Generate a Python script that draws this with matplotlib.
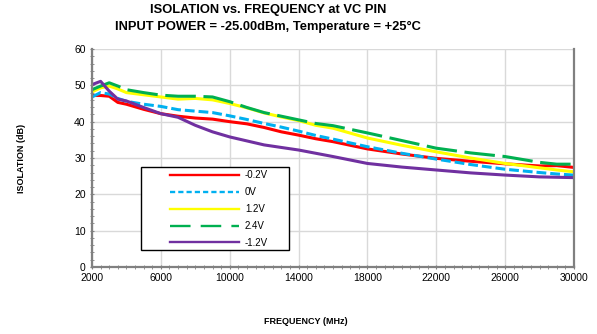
import matplotlib
matplotlib.use("Agg")
import matplotlib.pyplot as plt
from matplotlib.ticker import MultipleLocator
from matplotlib.lines import Line2D
from matplotlib.patches import Rectangle

plt.rcParams['font.family'] = ['Liberation Sans', 'DejaVu Sans']

freq = [2000, 2500, 3000, 3500, 4000, 5000, 6000, 7000, 8000, 9000, 10000, 11000, 12000,
        13000, 14000, 15000, 16000, 18000, 20000, 22000, 24000, 26000, 28000, 29000, 30000]
iso_m02 = [47.2, 47.2, 47.0, 45.3, 44.8, 43.4, 42.2, 41.5, 41.0, 40.7, 40.0, 39.4, 38.4,
           37.2, 36.3, 35.3, 34.5, 32.5, 31.1, 29.9, 29.1, 28.4, 27.8, 27.9, 27.4]
iso_0 = [46.8, 48.0, 47.6, 46.4, 45.6, 44.8, 44.2, 43.3, 42.9, 42.5, 41.6, 40.6, 39.5,
         38.5, 37.4, 36.2, 35.2, 33.1, 31.3, 29.7, 28.2, 26.9, 26.0, 25.6, 25.3]
iso_12 = [48.2, 49.3, 49.8, 49.0, 48.0, 47.4, 46.8, 46.2, 46.4, 46.0, 45.0, 43.8, 42.4,
          41.3, 40.3, 39.0, 38.2, 35.5, 33.5, 31.7, 30.0, 28.5, 27.3, 26.7, 26.2]
iso_24 = [48.8, 49.8, 50.7, 49.8, 48.8, 48.0, 47.3, 47.0, 47.0, 46.8, 45.5, 43.9, 42.5,
          41.5, 40.5, 39.5, 38.9, 36.9, 34.8, 32.7, 31.4, 30.4, 28.8, 28.3, 28.3]
iso_m12 = [50.2, 51.1, 48.4, 46.2, 45.7, 43.9, 42.2, 41.2, 39.0, 37.2, 35.8, 34.7, 33.6,
           32.9, 32.2, 31.3, 30.4, 28.5, 27.5, 26.7, 25.9, 25.3, 24.8, 24.7, 24.6]
labels = ['-0.2V', '0V', '1.2V', '2.4V', '-1.2V']
xticks = [2000, 6000, 10000, 14000, 18000, 22000, 26000, 30000]
yticks = [0, 10, 20, 30, 40, 50, 60]

colors = ['#FF0000', '#00B0F0', '#FFFF00', '#00B050', '#7030A0']
styles = ['-', (0, (3.2, 1.3)), '-', (0, (10, 2.5)), '-']
leg_styles = ['-', (0, (2.2, 1.3)), '-', (0, (8.7, 4.3)), '-']

fig = plt.figure(figsize=(5.97, 3.34), dpi=100)
ax = fig.add_axes([92/597, 1-267/334, (574-92)/597, (267-49)/334])

series = [iso_m02, iso_0, iso_12, iso_24, iso_m12]
for vals, c, ls, lab in zip(series, colors, styles, labels):
    ax.plot(freq, vals, color=c, lw=2.2, ls=ls, label=lab)

ax.set_xlim(2000, 30000)
ax.set_ylim(0, 60)
ax.set_xticks(xticks)
ax.set_yticks(yticks)
ax.xaxis.set_minor_locator(MultipleLocator(500))
ax.yaxis.set_minor_locator(MultipleLocator(2))
ax.tick_params(axis='both', which='major', labelsize=7.5, length=3, color='#808080',
               direction='inout', pad=3)
ax.tick_params(axis='both', which='minor', length=2.5, color='#808080', direction='inout')
ax.grid(True, which='major', color='#D9D9D9', lw=1)
ax.set_axisbelow(True)
for s in ['left', 'bottom', 'right']:
    ax.spines[s].set_color('#808080')
    ax.spines[s].set_linewidth(1.6)
ax.spines['top'].set_visible(False)

fig.text(268/597, 1-10/334, 'ISOLATION vs. FREQUENCY at VC PIN', ha='center', va='center',
         fontsize=9.3, fontweight='bold')
fig.text(268/597, 1-27/334, 'INPUT POWER = -25.00dBm, Temperature = +25°C', ha='center',
         va='center', fontsize=9.3, fontweight='bold')
fig.text(22/597, 1-158/334, 'ISOLATION (dB)', rotation=90, ha='center',
         va='center', fontsize=6.5, fontweight='bold')
fig.text(306/597, 1-322/334, 'FREQUENCY (MHz)', ha='center', va='center',
         fontsize=6.5, fontweight='bold')

# legend frame
ax.add_patch(Rectangle((141/597, 1-250/334), (289-141)/597, (250-167)/334,
                       transform=fig.transFigure, facecolor='white',
                       edgecolor='black', lw=1.0, zorder=4, clip_on=False))
handles = [Line2D([], [], color=c, lw=1.7, ls=ls) for c, ls in zip(colors, leg_styles)]
leg = ax.legend(handles, labels, loc='upper left', bbox_to_anchor=(170/597, 1-170.5/334),
                bbox_transform=fig.transFigure, fontsize=7, frameon=False,
                handlelength=7.1, labelspacing=0.7, borderpad=0,
                handletextpad=0.6, borderaxespad=0)
leg.set_zorder(5)

fig.savefig('out.png', dpi=100)
